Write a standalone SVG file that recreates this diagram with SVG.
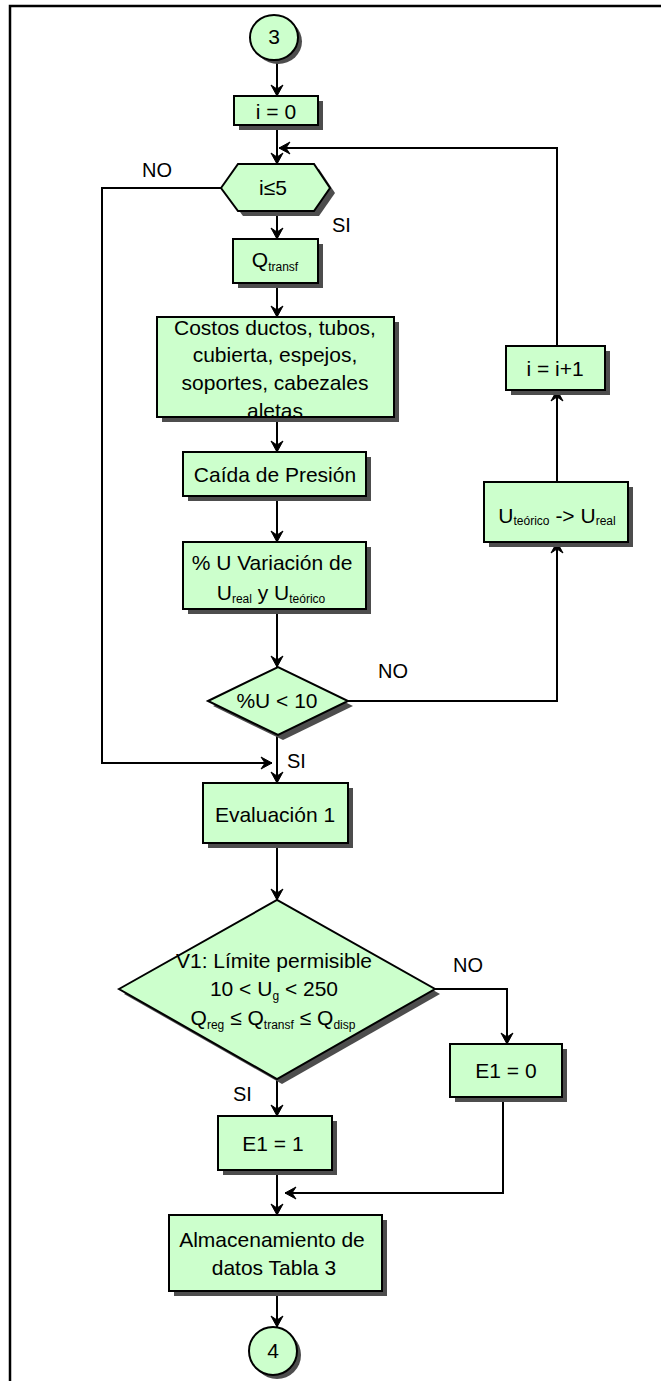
<svg xmlns="http://www.w3.org/2000/svg" width="661" height="1381" viewBox="0 0 661 1381">
<style>
.node{fill:#ccffcc;stroke:#000;stroke-width:2}
.shadow{fill:#4d4d4d}
.conn{fill:none;stroke:#000;stroke-width:2}
.frame{fill:none;stroke:#000;stroke-width:2.5}
text{font-family:"Liberation Sans",Arial,sans-serif;font-size:21px;fill:#000}
.lbl{font-size:20px}
.sub{font-size:12px}
.c{text-anchor:middle}
</style>
<defs>
<marker id="arr" markerUnits="userSpaceOnUse" markerWidth="14" markerHeight="14" viewBox="0 0 14 14" refX="12" refY="7" orient="auto">
<path d="M1,1 L12,7 L1,13 L5,7 z" fill="#000" stroke="#000" stroke-width="1" stroke-linejoin="miter"/>
</marker>
</defs>
<rect width="661" height="1381" fill="#fff"/>
<path class="frame" d="M10,1381 L10,6 L661,6"/>

<g id="connectors">
<path class="conn" d="M277,60 L277,96" marker-end="url(#arr)"/>
<path class="conn" d="M277,125 L277,164" marker-end="url(#arr)"/>
<path class="conn" d="M557,346 L557,148 L279,148" marker-end="url(#arr)"/>
<path class="conn" d="M277,211 L277,239" marker-end="url(#arr)"/>
<path class="conn" d="M277,283 L277,317" marker-end="url(#arr)"/>
<path class="conn" d="M277,417 L277,452" marker-end="url(#arr)"/>
<path class="conn" d="M277,496 L277,542" marker-end="url(#arr)"/>
<path class="conn" d="M277,609 L277,667" marker-end="url(#arr)"/>
<path class="conn" d="M348,701 L557,701 L557,542" marker-end="url(#arr)"/>
<path class="conn" d="M557,482 L557,390" marker-end="url(#arr)"/>
<path class="conn" d="M221,188 L102,188 L102,763 L272,763" marker-end="url(#arr)"/>
<path class="conn" d="M277,735 L277,783" marker-end="url(#arr)"/>
<path class="conn" d="M277,843 L277,900" marker-end="url(#arr)"/>
<path class="conn" d="M435,989 L507,989 L507,1044" marker-end="url(#arr)"/>
<path class="conn" d="M277,1079 L277,1116" marker-end="url(#arr)"/>
<path class="conn" d="M503,1097 L503,1193 L285,1193" marker-end="url(#arr)"/>
<path class="conn" d="M277,1170 L277,1215" marker-end="url(#arr)"/>
<path class="conn" d="M277,1291 L277,1327" marker-end="url(#arr)"/>
<text class="lbl" x="142" y="177">NO</text>
<text class="lbl" x="332" y="232">SI</text>
<text class="lbl" x="378" y="678">NO</text>
<text class="lbl" x="287" y="768">SI</text>
<text class="lbl" x="453" y="972">NO</text>
<text class="lbl" x="233" y="1101">SI</text>
</g>

<g id="start3">
<ellipse class="shadow" cx="278" cy="41.5" rx="24" ry="22.5"/>
<ellipse class="node" cx="274" cy="37.5" rx="24" ry="22.5"/>
<text class="c" x="274" y="44">3</text>
</g>

<g id="init">
<rect class="shadow" x="239" y="101" width="84" height="29"/>
<rect class="node" x="234" y="96" width="84" height="29"/>
<text class="c" x="276" y="119">i = 0</text>
</g>

<g id="loopcond">
<polygon class="shadow" points="226,193 243,169 319,169 335,193 319,216 243,216"/>
<polygon class="node" points="221,188 238,164 314,164 330,188 314,211 238,211"/>
<text class="c" x="273" y="195">i≤5</text>
</g>

<g id="qtransf">
<rect class="shadow" x="238" y="244" width="85" height="44"/>
<rect class="node" x="233" y="239" width="85" height="44"/>
<text class="c" x="275" y="267">Q<tspan class="sub" dy="4">transf</tspan></text>
</g>

<g id="costos">
<rect class="shadow" x="162" y="322" width="237" height="100"/>
<rect class="node" x="157" y="317" width="237" height="100"/>
<text class="c" x="275" y="335">Costos ductos, tubos,</text>
<text class="c" x="275" y="362">cubierta, espejos,</text>
<text class="c" x="275" y="390">soportes, cabezales</text>
<text class="c" x="275" y="418">aletas</text>
</g>

<g id="caida">
<rect class="shadow" x="188" y="457" width="183" height="44"/>
<rect class="node" x="183" y="452" width="183" height="44"/>
<text class="c" x="275" y="482">Caída de Presión</text>
</g>

<g id="variacion">
<rect class="shadow" x="188" y="547" width="183" height="67"/>
<rect class="node" x="183" y="542" width="183" height="67"/>
<text class="c" x="272" y="570">% U Variación de</text>
<text class="c" x="271" y="600">U<tspan class="sub" dy="3">real</tspan><tspan dy="-3"> y U</tspan><tspan class="sub" dy="3">teórico</tspan></text>
</g>

<g id="cond10">
<polygon class="shadow" points="213,706 283,672 353,706 283,740"/>
<polygon class="node" points="208,701 278,667 348,701 278,735"/>
<text class="c" x="277" y="708">%U &lt; 10</text>
</g>

<g id="uteorico">
<rect class="shadow" x="489" y="487" width="144" height="60"/>
<rect class="node" x="484" y="482" width="144" height="60"/>
<text class="c" x="557" y="523">U<tspan class="sub" dy="2">teórico</tspan><tspan dy="-2"> -&gt; U</tspan><tspan class="sub" dy="2">real</tspan></text>
</g>

<g id="incr">
<rect class="shadow" x="511" y="351" width="99" height="44"/>
<rect class="node" x="506" y="346" width="99" height="44"/>
<text class="c" x="555" y="376">i = i+1</text>
</g>

<g id="eval1">
<rect class="shadow" x="208" y="788" width="145" height="60"/>
<rect class="node" x="203" y="783" width="145" height="60"/>
<text class="c" x="275" y="822">Evaluación 1</text>
</g>

<g id="v1">
<polygon class="shadow" points="124,994 282,905 440,994 282,1084"/>
<polygon class="node" points="119,989 277,900 435,989 277,1079"/>
<text class="c" x="274" y="968">V1: Límite permisible</text>
<text class="c" x="274" y="996">10 &lt; U<tspan class="sub" dy="4">g</tspan><tspan dy="-4"> &lt; 250</tspan></text>
<text class="c" x="273" y="1025">Q<tspan class="sub" dy="4">reg</tspan><tspan dy="-4"> ≤ Q</tspan><tspan class="sub" dy="4">transf</tspan><tspan dy="-4"> ≤ Q</tspan><tspan class="sub" dy="4">disp</tspan></text>
</g>

<g id="e10">
<rect class="shadow" x="455" y="1049" width="112" height="53"/>
<rect class="node" x="450" y="1044" width="112" height="53"/>
<text class="c" x="506" y="1078">E1 = 0</text>
</g>

<g id="e11">
<rect class="shadow" x="223" y="1121" width="114" height="54"/>
<rect class="node" x="218" y="1116" width="114" height="54"/>
<text class="c" x="273" y="1151">E1 = 1</text>
</g>

<g id="almac">
<rect class="shadow" x="174" y="1220" width="213" height="76"/>
<rect class="node" x="169" y="1215" width="213" height="76"/>
<text class="c" x="272" y="1247">Almacenamiento de</text>
<text class="c" x="274" y="1275">datos Tabla 3</text>
</g>

<g id="end4">
<circle class="shadow" cx="277" cy="1355" r="24"/>
<circle class="node" cx="273" cy="1351" r="24"/>
<text class="c" x="273" y="1358">4</text>
</g>
</svg>
